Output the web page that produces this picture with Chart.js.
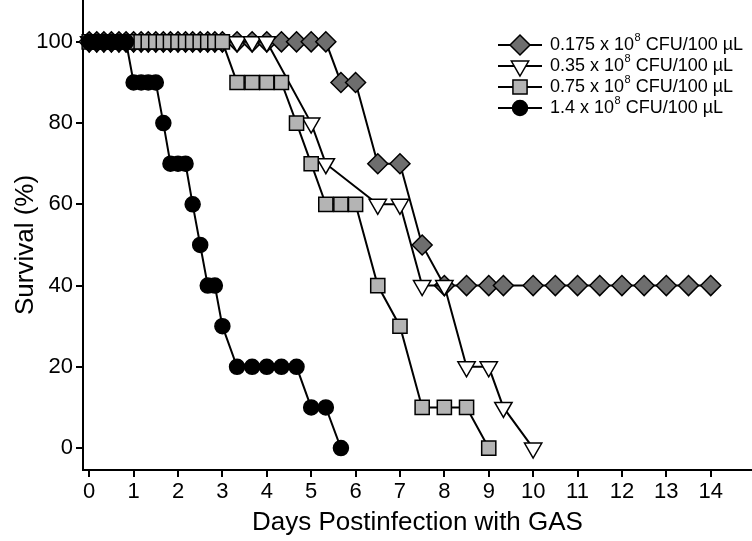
<!DOCTYPE html>
<html>
<head>
<meta charset="utf-8">
<script src="https://cdn.jsdelivr.net/npm/chart.js@4.4.1/dist/chart.umd.min.js"></script>
<style>
  body { margin: 0; background: #fff; }
  #wrap { width: 752px; height: 541px; }
</style>
</head>
<body>
<div id="wrap"><canvas id="myChart" width="752" height="541"></canvas></div>
<script>
// dose groups, x 10^8 CFU/100 µL
var doses = ['0.175', '0.35', '0.75', '1.4'];

// 0.175 x 10^8
var days1 = [0, 0.17, 0.33, 0.5, 0.67, 0.83, 1, 1.17, 1.33, 1.5, 1.67, 1.83, 2, 2.17, 2.33, 2.5, 2.67, 2.83, 3,
             3.33, 3.67, 4, 4.33, 4.67, 5, 5.33, 5.67, 6, 6.5, 7, 7.5,
             8, 8.5, 9, 9.33, 10, 10.5, 11, 11.5, 12, 12.5, 13, 13.5, 14];
var surv1 = [100, 100, 100, 100, 100, 100, 100, 100, 100, 100, 100, 100, 100, 100, 100, 100, 100, 100, 100,
             100, 100, 100, 100, 100, 100, 100, 90, 90, 70, 70, 50,
             40, 40, 40, 40, 40, 40, 40, 40, 40, 40, 40, 40, 40];

// 0.35 x 10^8
var days2 = [0, 0.17, 0.33, 0.5, 0.67, 0.83, 1, 1.17, 1.33, 1.5, 1.67, 1.83, 2, 2.17, 2.33, 2.5, 2.67, 2.83, 3,
             3.33, 3.67, 4, 5, 5.33, 6.5, 7, 7.5, 8, 8.5, 9, 9.33, 10];
var surv2 = [100, 100, 100, 100, 100, 100, 100, 100, 100, 100, 100, 100, 100, 100, 100, 100, 100, 100, 100,
             100, 100, 100, 80, 70, 60, 60, 40, 40, 20, 20, 10, 0];

// 0.75 x 10^8
var days3 = [0, 0.17, 0.33, 0.5, 0.67, 0.83, 1, 1.17, 1.33, 1.5, 1.67, 1.83, 2, 2.17, 2.33, 2.5, 2.67, 2.83, 3,
             3.33, 3.67, 4, 4.33, 4.67, 5, 5.33, 5.67, 6, 6.5, 7, 7.5, 8, 8.5, 9];
var surv3 = [100, 100, 100, 100, 100, 100, 100, 100, 100, 100, 100, 100, 100, 100, 100, 100, 100, 100, 100,
             90, 90, 90, 90, 80, 70, 60, 60, 60, 40, 30, 10, 10, 10, 0];

// 1.4 x 10^8
var days4 = [0, 0.17, 0.33, 0.5, 0.67, 0.83, 1, 1.17, 1.33, 1.5, 1.67, 1.83, 2, 2.17, 2.33, 2.5, 2.67, 2.83, 3,
             3.33, 3.67, 4, 4.33, 4.67, 5, 5.33, 5.67];
var surv4 = [100, 100, 100, 100, 100, 100, 90, 90, 90, 90, 80, 70, 70, 70, 60, 50, 40, 40, 30,
             20, 20, 20, 20, 20, 10, 10, 0];

var xTicks = [0, 1, 2, 3, 4, 5, 6, 7, 8, 9, 10, 11, 12, 13, 14];
var yTicks = [0, 20, 40, 60, 80, 100];

function pts(d, s) {
    return d.map(function (x, i) { return { x: x, y: s[i] }; });
}

var FONT = '"Liberation Sans", Arial, Helvetica, sans-serif';
Chart.defaults.font.family = FONT;
Chart.defaults.color = '#000';

var styles = [
    { pointStyle: 'rectRot', radius: 10, rotation: 0, fill: '#6e6e6e', order: 3 },
    { pointStyle: 'triangle', radius: 10, rotation: 180, fill: '#ffffff', order: 2 },
    { pointStyle: 'rect', radius: 10, rotation: 0, fill: '#b4b4b4', order: 1 },
    { pointStyle: 'circle', radius: 7.5, rotation: 0, fill: '#000000', order: 0 }
];
var series = [pts(days1, surv1), pts(days2, surv2), pts(days3, surv3), pts(days4, surv4)];

var datasets = series.map(function (data, i) {
    var st = styles[i];
    return {
        label: doses[i] + ' x 10⁸ CFU/100 µL',
        data: data,
        order: st.order,
        borderColor: '#000',
        borderWidth: 2,
        pointStyle: st.pointStyle,
        pointRadius: st.radius,
        pointRotation: st.rotation,
        pointBackgroundColor: st.fill,
        pointBorderColor: '#000',
        pointBorderWidth: 1.5,
        clip: false,
        tension: 0
    };
});

// legend with a line through each marker and a raised exponent,
// plus the y title centred on the 0-100 range
var extras = {
    id: 'extras',
    afterDraw: function (chart) {
        var ctx = chart.ctx;
        var yScale = chart.scales.y;
        var rowY = [45, 66, 87, 108];
        ctx.save();
        styles.forEach(function (st, i) {
            var y = rowY[i];
            ctx.strokeStyle = '#000';
            ctx.lineWidth = 2;
            ctx.beginPath();
            ctx.moveTo(498, y);
            ctx.lineTo(542, y);
            ctx.stroke();
            ctx.fillStyle = st.fill;
            ctx.lineWidth = 1.5;
            Chart.helpers.drawPoint(ctx, { pointStyle: st.pointStyle, radius: st.radius, rotation: st.rotation, borderWidth: 1.5 }, 520, y);

            ctx.fillStyle = '#000';
            ctx.textBaseline = 'middle';
            ctx.textAlign = 'left';
            ctx.font = '18px ' + FONT;
            var t1 = doses[i] + ' x 10';
            ctx.fillText(t1, 550, y);
            var x = 550 + ctx.measureText(t1).width;
            ctx.font = '11px ' + FONT;
            ctx.fillText('8', x + 0.5, y - 7);
            x += ctx.measureText('8').width + 0.5;
            ctx.font = '18px ' + FONT;
            ctx.fillText(' CFU/100 µL', x, y);
        });

        var midY = (yScale.getPixelForValue(0) + yScale.getPixelForValue(100)) / 2;
        ctx.translate(26, midY);
        ctx.rotate(-Math.PI / 2);
        ctx.textAlign = 'center';
        ctx.textBaseline = 'middle';
        ctx.font = '26px ' + FONT;
        ctx.fillText('Survival (%)', 0, 0);
        ctx.restore();
    }
};

var ctx = document.getElementById('myChart').getContext('2d');

var myChart = new Chart(ctx, {
    type: 'line',
    data: { datasets: datasets },
    plugins: [extras],
    options: {
        responsive: false,
        animation: false,
        events: [],
        layout: { padding: 0, autoPadding: false },
        plugins: {
            legend: { display: false },
            tooltip: { enabled: false }
        },
        scales: {
            x: {
                type: 'linear',
                min: -0.14,
                max: 14.93,
                afterBuildTicks: function (scale) {
                    scale.ticks = xTicks.map(function (v) { return { value: v }; });
                },
                afterFit: function (scale) {
                    scale.height = 71;
                    scale.paddingLeft = 0;
                    scale.paddingRight = 0;
                },
                border: { display: true, color: '#000', width: 2 },
                grid: { drawOnChartArea: false, drawTicks: true, tickLength: 7, color: '#000', lineWidth: 2 },
                ticks: { font: { size: 22 }, padding: 2, maxRotation: 0, autoSkip: false, includeBounds: false },
                title: { display: true, text: 'Days Postinfection with GAS', font: { size: 26 }, padding: { top: 0, bottom: 3 } }
            },
            y: {
                min: -5.4,
                max: 110.3,
                afterBuildTicks: function (scale) {
                    scale.ticks = yTicks.map(function (v) { return { value: v }; });
                },
                afterFit: function (scale) {
                    scale.width = 83;
                    scale.paddingTop = 0;
                    scale.paddingBottom = 0;
                },
                border: { display: true, color: '#000', width: 2 },
                grid: { drawOnChartArea: false, drawTicks: true, tickLength: 7, color: '#000', lineWidth: 2 },
                ticks: { font: { size: 22 }, padding: 3, includeBounds: false },
                title: { display: false }
            }
        }
    }
});
</script>
</body>
</html>
